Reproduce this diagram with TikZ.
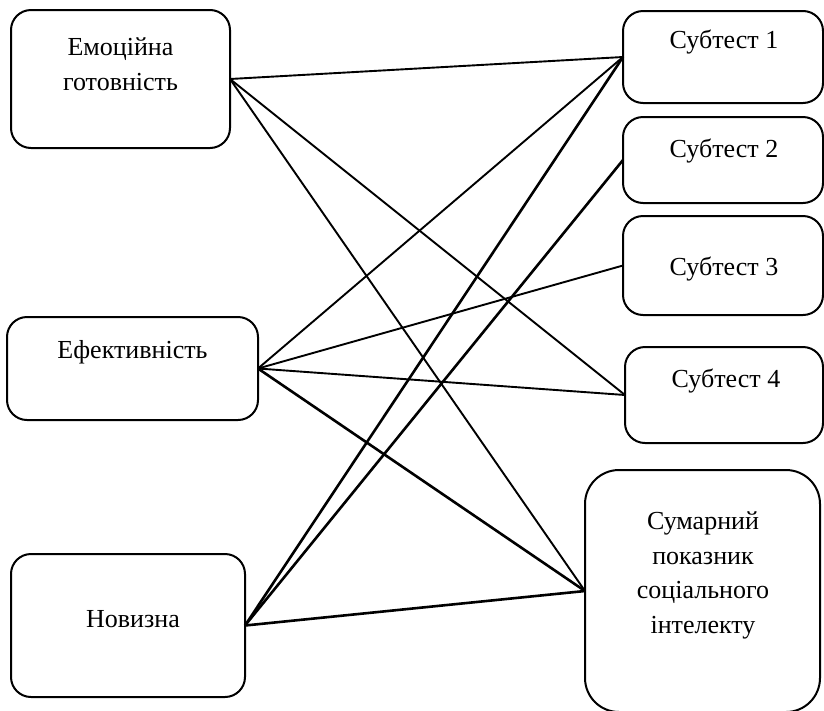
\documentclass[tikz,border=0pt]{standalone}
\usepackage{fontspec}
\setmainfont{Liberation Serif}
\begin{document}
\begin{tikzpicture}[x=1pt,y=-1pt,
  box/.style={draw, line width=2pt, rounded corners=20pt, inner sep=0pt, outer sep=0pt},
  lbl/.style={font=\fontsize{26}{34.5}\selectfont, align=center, anchor=base, inner sep=0pt},
  thin/.style={line width=1.9pt},
  thick/.style={line width=2.6pt}]
\clip (0,0) rectangle (824,710);
\useasboundingbox (0,0) rectangle (824,710);
% left column
\node[box, minimum width=219pt, minimum height=138pt] (emo) at (120.5,79) {};
\node[box, minimum width=251pt, minimum height=103pt] (eff) at (132.5,368.5) {};
\node[box, minimum width=234pt, minimum height=143pt] (nov) at (128,625.5) {};
% right column
\node[box, minimum width=200pt, minimum height=92pt] (s1) at (723,57) {};
\node[box, minimum width=200pt, minimum height=86pt] (s2) at (723,160) {};
\node[box, minimum width=200pt, minimum height=99pt] (s3) at (723,265.5) {};
\node[box, minimum width=198pt, minimum height=96pt] (s4) at (724,395) {};
\node[box, rounded corners=34pt, minimum width=235pt, minimum height=242pt] (sum) at (702.5,591) {};
% labels (multi-line labels sit on the baseline of their last line)
\node[lbl] (temo) at (120.5,90) {Емоційна\\готовність};
\node[lbl] (teff) at (132.5,358) {Ефективність};
\node[lbl] (tnov) at (133,627) {Новизна};
\node[lbl] (ts1) at (724,48) {Субтест 1};
\node[lbl] (ts2) at (724,157) {Субтест 2};
\node[lbl] (ts3) at (724,275) {Субтест 3};
\node[lbl] (ts4) at (726,387) {Субтест 4};
\node[lbl] (tsum) at (703,633) {Сумарний\\показник\\соціального\\інтелекту};
% connectors
\draw[thin] (emo.east) -- (s1.west);
\draw[thin] (emo.east) -- (s4.west);
\draw[thin] (emo.east) -- (sum.west);
\draw[thin] (eff.east) -- (s1.west);
\draw[thin] (eff.east) -- (s3.west);
\draw[thin] (eff.east) -- (s4.west);
\draw[thick] (eff.east) -- (sum.west);
\draw[thick] (nov.east) -- (s1.west);
\draw[thick] (nov.east) -- (s2.west);
\draw[thick] (nov.east) -- (sum.west);
\end{tikzpicture}
\end{document}
